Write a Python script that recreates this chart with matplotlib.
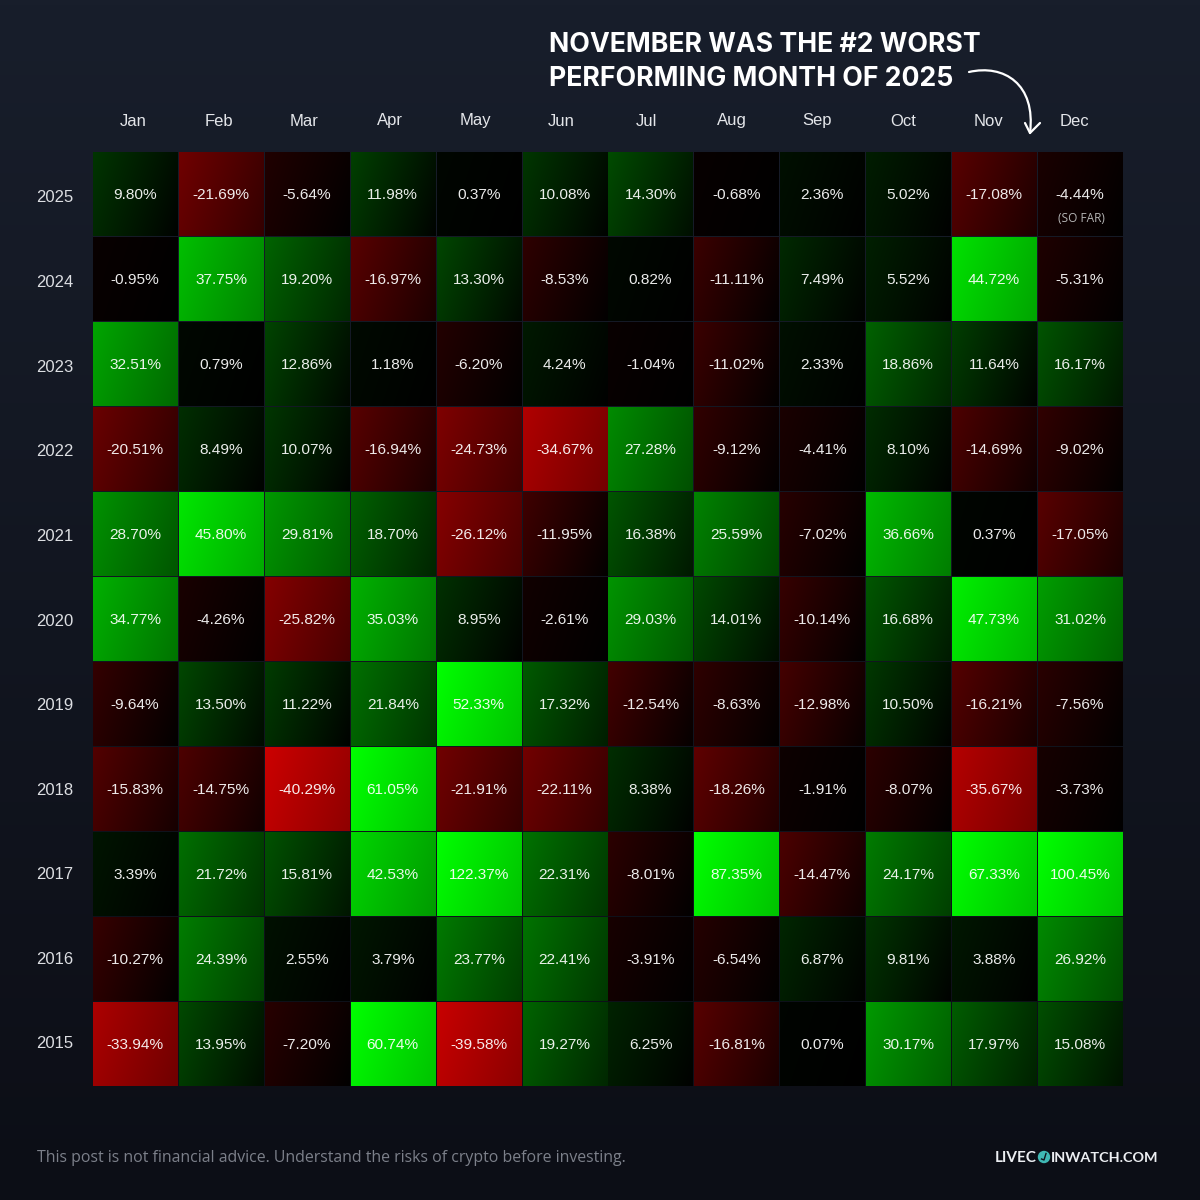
import numpy as np
import matplotlib.pyplot as plt
from matplotlib.patches import Circle, PathPatch
from matplotlib.path import Path

months = ['Jan', 'Feb', 'Mar', 'Apr', 'May', 'Jun', 'Jul', 'Aug', 'Sep', 'Oct', 'Nov', 'Dec']
years = [2025, 2024, 2023, 2022, 2021, 2020, 2019, 2018, 2017, 2016, 2015]

returns = [
    [9.80, -21.69, -5.64, 11.98, 0.37, 10.08, 14.30, -0.68, 2.36, 5.02, -17.08, -4.44],
    [-0.95, 37.75, 19.20, -16.97, 13.30, -8.53, 0.82, -11.11, 7.49, 5.52, 44.72, -5.31],
    [32.51, 0.79, 12.86, 1.18, -6.20, 4.24, -1.04, -11.02, 2.33, 18.86, 11.64, 16.17],
    [-20.51, 8.49, 10.07, -16.94, -24.73, -34.67, 27.28, -9.12, -4.41, 8.10, -14.69, -9.02],
    [28.70, 45.80, 29.81, 18.70, -26.12, -11.95, 16.38, 25.59, -7.02, 36.66, 0.37, -17.05],
    [34.77, -4.26, -25.82, 35.03, 8.95, -2.61, 29.03, 14.01, -10.14, 16.68, 47.73, 31.02],
    [-9.64, 13.50, 11.22, 21.84, 52.33, 17.32, -12.54, -8.63, -12.98, 10.50, -16.21, -7.56],
    [-15.83, -14.75, -40.29, 61.05, -21.91, -22.11, 8.38, -18.26, -1.91, -8.07, -35.67, -3.73],
    [3.39, 21.72, 15.81, 42.53, 122.37, 22.31, -8.01, 87.35, -14.47, 24.17, 67.33, 100.45],
    [-10.27, 24.39, 2.55, 3.79, 23.77, 22.41, -3.91, -6.54, 6.87, 9.81, 3.88, 26.92],
    [-33.94, 13.95, -7.20, 60.74, -39.58, 19.27, 6.25, -16.81, 0.07, 30.17, 17.97, 15.08],
]

BODY = ['Liberation Sans', 'DejaVu Sans']
HEAD = ['Inter', 'DejaVu Sans']
FOOT = ['Open Sans', 'DejaVu Sans']
LOGO = ['Lato', 'DejaVu Sans']

X0, Y0 = 93.0, 152.5
PITCH_X, PITCH_Y = 85.9, 85.0
CELL_W, CELL_H = 84.2, 83.4

fig = plt.figure(figsize=(12, 12), dpi=100)
ax = fig.add_axes([0, 0, 1, 1])
ax.axis('off')

# page background, a little darker towards the bottom
top = np.array([24, 30, 43]) / 255
bot = np.array([12, 14, 22]) / 255
t = np.linspace(0, 1, 256)[:, None, None]
bg = top * (1 - t) + bot * t
ax.imshow(bg, extent=(0, 1200, 1200, 0), aspect='auto', zorder=0)


def cell_image(v):
    # brighter in the top left corner, fading towards the right and bottom
    xx, yy = np.meshgrid(np.linspace(0, 1, 48), np.linspace(0, 1, 48))
    base = min(255, abs(v) * 4.95 + 4)
    level = base - min(base * 0.95, 60) * (xx * 0.75 + yy * 0.25)
    img = np.zeros((48, 48, 3))
    img[:, :, 1 if v > 0 else 0] = np.clip(level, 0, 255) / 255
    return img


for r, row in enumerate(returns):
    for c, v in enumerate(row):
        x = X0 + c * PITCH_X
        y = Y0 + r * PITCH_Y
        ax.imshow(cell_image(v), extent=(x, x + CELL_W, y + CELL_H, y),
                  aspect='auto', interpolation='bilinear', zorder=1)
        ax.text(x + CELL_W / 2, y + CELL_H / 2 + 1, f'{v:.2f}%', color='white', alpha=0.92,
                fontsize=11.1, family=BODY, ha='center', va='center', zorder=3)

ax.set_xlim(0, 1200)
ax.set_ylim(1200, 0)

for c, m in enumerate(months):
    ax.text(133.5 + c * 85.5, 121, m, color='#e4e6ea', fontsize=12, family=BODY,
            ha='center', va='center')

for r, yr in enumerate(years):
    ax.text(55, 198 + r * 84.6, str(yr), color='#dcdee2', fontsize=12, family=BODY,
            ha='center', va='center')

ax.text(1081, 218, '(SO FAR)', color='#b4b4b4', fontsize=8.6, family=FOOT,
        ha='center', va='center', zorder=3)

ax.text(549, 45, 'NOVEMBER WAS THE #2 WORST', color='white', fontsize=19.2,
        family=HEAD, weight='bold', ha='left', va='center')
ax.text(549, 79, 'PERFORMING MONTH OF 2025', color='white', fontsize=19.2,
        family=HEAD, weight='bold', ha='left', va='center')

# hand drawn arrow
curve = Path([(969, 72), (1004, 64), (1036, 84), (1030, 133)],
             [Path.MOVETO, Path.CURVE4, Path.CURVE4, Path.CURVE4])
ax.add_patch(PathPatch(curve, fc='none', ec='white', lw=1.6, capstyle='round', zorder=3))
head = Path([(1025, 123), (1030, 133), (1040, 123)], [Path.MOVETO, Path.LINETO, Path.LINETO])
ax.add_patch(PathPatch(head, fc='none', ec='white', lw=1.6, capstyle='round',
                       joinstyle='round', zorder=3))

ax.text(37, 1157.5, 'This post is not financial advice. Understand the risks of crypto before investing.',
        color='#7c808a', fontsize=11.4, family=FOOT, ha='left', va='center')

# logo text with the coin in place of the O
ax.text(1037, 1158.5, 'LIVEC', color='#eceef2', fontsize=11, family=LOGO, weight='bold',
        ha='right', va='center')
ax.add_patch(Circle((1044, 1157), 6.2, fc='#3fb8b4', ec='none', zorder=3))
ax.plot([1041.5, 1044, 1046], [1159, 1160, 1153.5], color='#10131c', lw=1, zorder=4)
ax.text(1051, 1158.5, 'INWATCH.COM', color='#eceef2', fontsize=10.4, family=LOGO, weight='bold',
        ha='left', va='center')

fig.savefig('out.png', dpi=100, facecolor='#141824')
